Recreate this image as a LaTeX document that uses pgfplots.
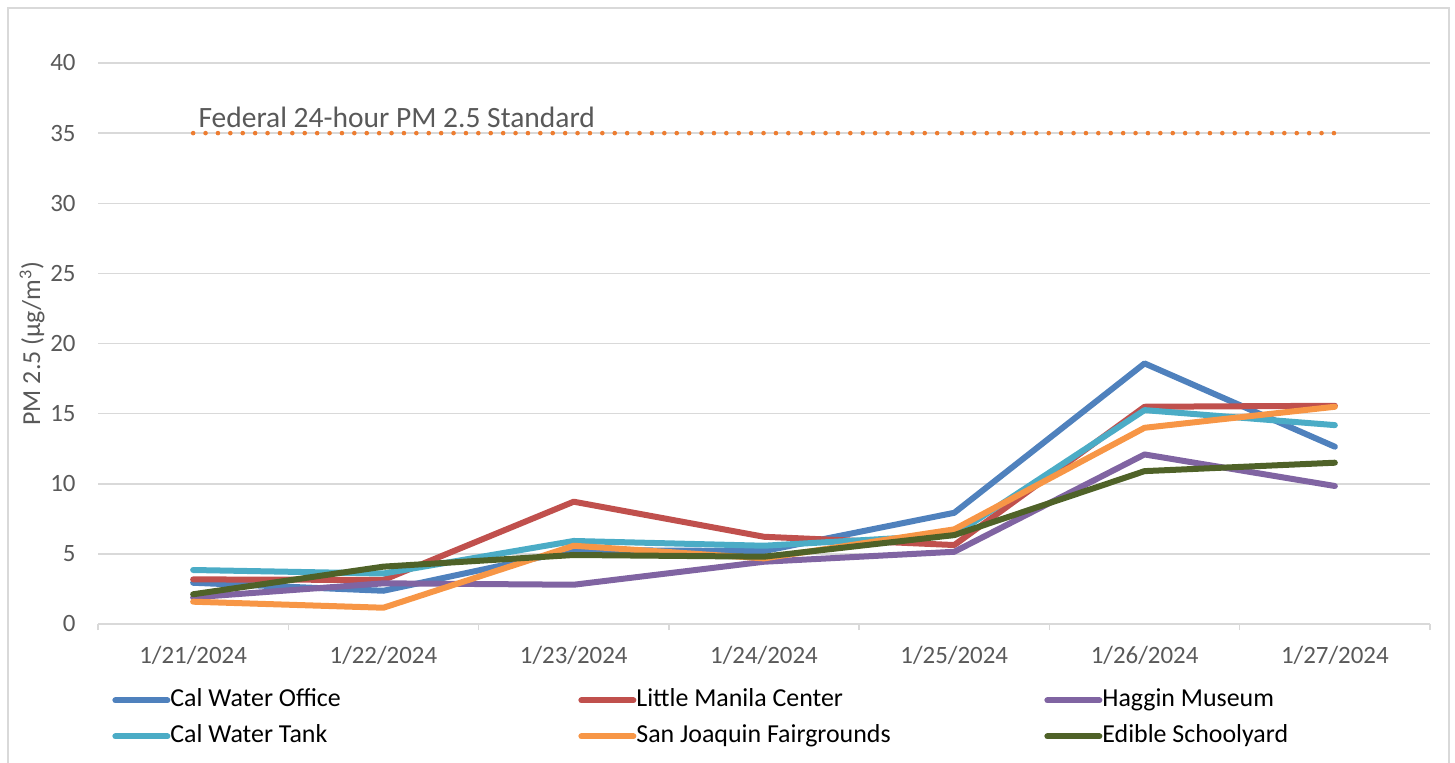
\documentclass[border=0pt]{standalone}
\usepackage{fontspec}
\setmainfont{Carlito}
\usepackage{pgfplots}
\pgfplotsset{compat=1.18}
\definecolor{cOffice}{HTML}{4F81BD}
\definecolor{cManila}{HTML}{C0504D}
\definecolor{cHaggin}{HTML}{8064A2}
\definecolor{cTank}{HTML}{4BACC6}
\definecolor{cSJ}{HTML}{F79646}
\definecolor{cEdible}{HTML}{4F6228}
\definecolor{cStd}{HTML}{ED7D31}
\definecolor{gridgray}{HTML}{D9D9D9}
\definecolor{txtgray}{HTML}{595959}
\newcommand{\legbox}[1]{\makebox[204bp][l]{#1}}
\begin{document}
\begin{tikzpicture}
\useasboundingbox (-49bp,-69.5bp) rectangle (678.5bp,312bp);
\draw[color=gridgray, line width=0.75bp] (-45bp,-70bp) rectangle (675.5bp,308bp);
\begin{axis}[
  at={(0,0)}, anchor=south west,
  width=666bp, height=280.5bp, scale only axis,
  xmin=-0.5, xmax=6.5, ymin=0, ymax=40,
  xtick={0,...,6},
  xticklabels={1/21/2024,1/22/2024,1/23/2024,1/24/2024,1/25/2024,1/26/2024,1/27/2024},
  minor xtick={-0.5,0.5,...,6.5},
  ytick={0,5,...,40},
  axis x line*=bottom, axis y line*=left,
  y axis line style={draw=none},
  x axis line style={draw=gridgray, line width=0.75bp},
  tick align=outside,
  major tick length=0pt, minor tick length=3bp,
  minor tick style={draw=gridgray, line width=0.75bp},
  ymajorgrids, major grid style={draw=gridgray, line width=0.75bp},
  /pgf/number format/assume math mode=true,
  tick label style={font=\fontsize{12.5pt}{15pt}\selectfont, text=txtgray},
  yticklabel style={anchor=east, inner xsep=0pt, xshift=-11bp},
  xticklabel style={anchor=base, inner sep=0pt, yshift=-19.5bp},
  ylabel={PM 2.5 (µg/m\textsuperscript{3})},
  ylabel style={at={(axis description cs:-0.0495,0.5)}, anchor=center, font=\fontsize{13pt}{15pt}\selectfont, text=txtgray},
  clip=false,
  legend columns=3,
  legend cell align=left,
  legend image code/.code={\draw[#1, line cap=round] (0bp,0bp) -- (26bp,0bp);},
  legend style={draw=none, fill=none, at={(0.0105,-0.1131)}, anchor=north west,
    inner xsep=0pt, inner ysep=0pt, row sep=5.5bp, column sep=0pt,
    font=\fontsize{13pt}{15pt}\selectfont,
    nodes={inner xsep=0pt, inner ysep=0pt, text height=9.5bp, text depth=3bp}},
  every axis plot/.append style={line width=3bp, line cap=round, line join=round},
]
\addplot[cOffice] coordinates {(0,2.94) (1,2.37) (2,5.27) (3,5.2) (4,7.93) (5,18.58) (6,12.64)};
\addlegendentry{\legbox{Cal Water Office}}
\addplot[cManila] coordinates {(0,3.18) (1,3.14) (2,8.72) (3,6.22) (4,5.63) (5,15.49) (6,15.56)};
\addlegendentry{\legbox{Little Manila Center}}
\addplot[cHaggin] coordinates {(0,1.9) (1,2.9) (2,2.8) (3,4.44) (4,5.15) (5,12.09) (6,9.84)};
\addlegendentry{\legbox{Haggin Museum}}
\addplot[cTank] coordinates {(0,3.85) (1,3.6) (2,5.92) (3,5.58) (4,6.35) (5,15.25) (6,14.18)};
\addlegendentry{\legbox{Cal Water Tank}}
\addplot[cSJ] coordinates {(0,1.59) (1,1.16) (2,5.58) (3,4.68) (4,6.75) (5,13.99) (6,15.49)};
\addlegendentry{\legbox{San Joaquin Fairgrounds}}
\addplot[cEdible] coordinates {(0,2.12) (1,4.09) (2,4.92) (3,4.8) (4,6.34) (5,10.9) (6,11.5)};
\addlegendentry{\legbox{Edible Schoolyard}}
\addplot[cStd, line width=2.3bp, dash pattern=on 0pt off 6.2bp, line cap=round, forget plot] coordinates {(0,35) (1,35) (2,35) (3,35) (4,35) (5,35) (6,35)};
\node[anchor=base west, inner sep=0pt, xshift=2.5bp, yshift=3bp, text=txtgray, font=\fontsize{14.8pt}{17pt}\selectfont] at (axis cs:0,35) {Federal 24-hour PM 2.5 Standard};
\end{axis}
\end{tikzpicture}
\end{document}
